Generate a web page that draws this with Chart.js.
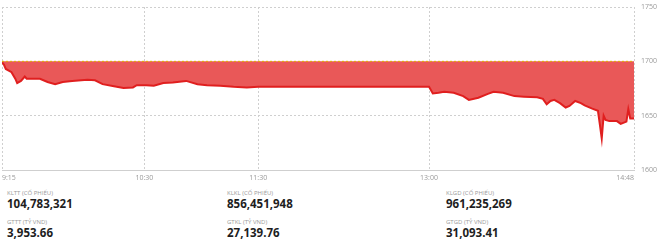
<!DOCTYPE html>
<html>
<head>
<meta charset="utf-8">
<script src="https://cdn.jsdelivr.net/npm/chart.js@4.4.1/dist/chart.umd.min.js"></script>
<style>
  html, body { margin: 0; padding: 0; background: #fff; }
  body { width: 660px; height: 245px; position: relative; overflow: hidden; font-family: "Open Sans", sans-serif; }
  #wrap { position: absolute; left: 0; top: 0; width: 660px; height: 185px; }
  .stat { position: absolute; }
  .stat .lbl { font-size: 6px; color: #9a9a9a; text-transform: uppercase; line-height: 8px; white-space: nowrap; }
  .stat .val { font-size: 11.5px; font-weight: 700; color: #1e1e1e; line-height: 14px; white-space: nowrap; }
</style>
</head>
<body>
<div id="wrap"><canvas id="chart"></canvas></div>
<div id="stats"></div>
<script>
'use strict';

// intraday price
var times = ['9:15', '9:16', '9:17', '9:20', '9:22', '9:23', '9:25', '9:27', '9:28', '9:31',
	'9:35', '9:39', '9:43', '9:47', '9:52', '10:00', '10:04', '10:08', '10:14', '10:19',
	'10:24', '10:26', '10:31', '10:35', '10:40', '10:45', '10:52', '10:58', '11:03', '11:10',
	'11:17', '11:24', '11:30', '13:00', '13:02', '13:05', '13:08', '13:13', '13:18', '13:21',
	'13:26', '13:31', '13:34', '13:39', '13:45', '13:50', '13:57', '14:00', '14:02', '14:04',
	'14:06', '14:09', '14:12', '14:14', '14:17', '14:20', '14:22', '14:26', '14:29', '14:30',
	'14:31', '14:32', '14:33', '14:35', '14:39', '14:41', '14:44', '14:45', '14:46', '14:48'];
var prices = [1699, 1697, 1693, 1690, 1684, 1680, 1682, 1686, 1684, 1684,
	1684, 1681, 1679, 1681, 1682, 1683, 1682.5, 1679, 1677, 1675.5,
	1676, 1678, 1678, 1677.5, 1680, 1680.5, 1682, 1679, 1678, 1677.5,
	1676.5, 1676, 1676.5, 1676.5, 1670.5, 1671, 1672, 1671, 1668, 1664.5,
	1666.5, 1670, 1672, 1671, 1668, 1667.5, 1667, 1665.5, 1660.5, 1663.5,
	1664.5, 1661.5, 1657.5, 1659, 1663.5, 1661.5, 1659.5, 1656.5, 1654.5, 1642,
	1629, 1650, 1646, 1645, 1645, 1642.5, 1644.5, 1656, 1647.5, 1647.5];

// reference (previous close)
var refPrice = 1700;

// axes
var xTicks = ['9:15', '10:30', '11:30', '13:00', '14:48'];
var yTicks = [1600, 1650, 1700, 1750];

// summary figures under the chart
var statLabels = ['KLTT (CỔ PHIẾU)', 'GTTT (TỶ VND)', 'KLKL (CỔ PHIẾU)', 'GTKL (TỶ VND)', 'KLGD (CỔ PHIẾU)', 'GTGD (TỶ VND)'];
var statValues = ['104,783,321', '3,953.66', '856,451,948', '27,139.76', '961,235,269', '31,093.41'];

function toMinutes(t){
	var p = t.split(':');
	return parseInt(p[0], 10) * 60 + parseInt(p[1], 10);
}

var points = times.map(function(t, i){
	return {x : toMinutes(t), y : prices[i]};
});
var xMin = toMinutes(xTicks[0]),
	xMax = toMinutes(xTicks[xTicks.length - 1]);

var tickFont = {family : '"Open Sans", sans-serif', size : 7};

new Chart(document.getElementById('chart').getContext('2d'), {
	type : 'line',
	data : {
		datasets : [{
			data : points,
			borderColor : '#e01f1f',
			borderWidth : 2,
			backgroundColor : '#e95858',
			fill : {value : refPrice},
			pointRadius : 0,
			tension : 0,
			order : 2
		}, {
			data : [{x : xMin, y : refPrice}, {x : xMax, y : refPrice}],
			borderColor : '#e2b000',
			borderWidth : 1,
			borderDash : [2, 2],
			pointRadius : 0,
			fill : false,
			order : 1
		}]
	},
	options : {
		responsive : true,
		maintainAspectRatio : false,
		animation : false,
		layout : {padding : {left : 2, right : 0, top : 7, bottom : 0}},
		plugins : {legend : {display : false}, tooltip : {enabled : false}},
		scales : {
			x : {
				type : 'linear',
				min : xMin,
				max : xMax,
				afterBuildTicks : function(scale){
					scale.ticks = xTicks.map(function(t){ return {value : toMinutes(t)}; });
				},
				afterFit : function(scale){
					scale.height = 15;
					scale.paddingLeft = 0;
					scale.paddingRight = 0;
				},
				ticks : {
					align : 'inner',
					maxRotation : 0,
					padding : 4,
					color : '#999',
					font : tickFont,
					callback : function(value){
						var i = xTicks.map(toMinutes).indexOf(value);
						return i === -1 ? '' : xTicks[i];
					}
				},
				grid : {color : '#cfcfcf', lineWidth : 1, drawTicks : false},
				border : {display : true, color : '#cfcfcf', width : 1, dash : [2, 2]}
			},
			y : {
				position : 'right',
				min : yTicks[0],
				max : yTicks[yTicks.length - 1],
				afterBuildTicks : function(scale){
					scale.ticks = yTicks.map(function(v){ return {value : v}; });
				},
				afterFit : function(scale){
					scale.width = 26;
					scale.paddingTop = 0;
					scale.paddingBottom = 0;
				},
				ticks : {
					padding : 7,
					color : '#999',
					font : tickFont,
					callback : function(value){ return String(value); }
				},
				grid : {color : '#cfcfcf', lineWidth : 1, drawTicks : false},
				border : {display : false, dash : [2, 2]}
			}
		}
	}
});

// summary block: three columns, two rows each
var $stats = document.getElementById('stats'),
	colX = [7, 227, 446],
	rowY = [189, 218],
	i = 0;
for(i = 0; i < statLabels.length; i++){
	var box = document.createElement('div');
	box.className = 'stat';
	box.style.left = colX[Math.floor(i / 2)] + 'px';
	box.style.top = rowY[i % 2] + 'px';
	box.innerHTML = '<div class="lbl">' + statLabels[i] + '</div><div class="val">' + statValues[i] + '</div>';
	$stats.appendChild(box);
}
</script>
</body>
</html>
